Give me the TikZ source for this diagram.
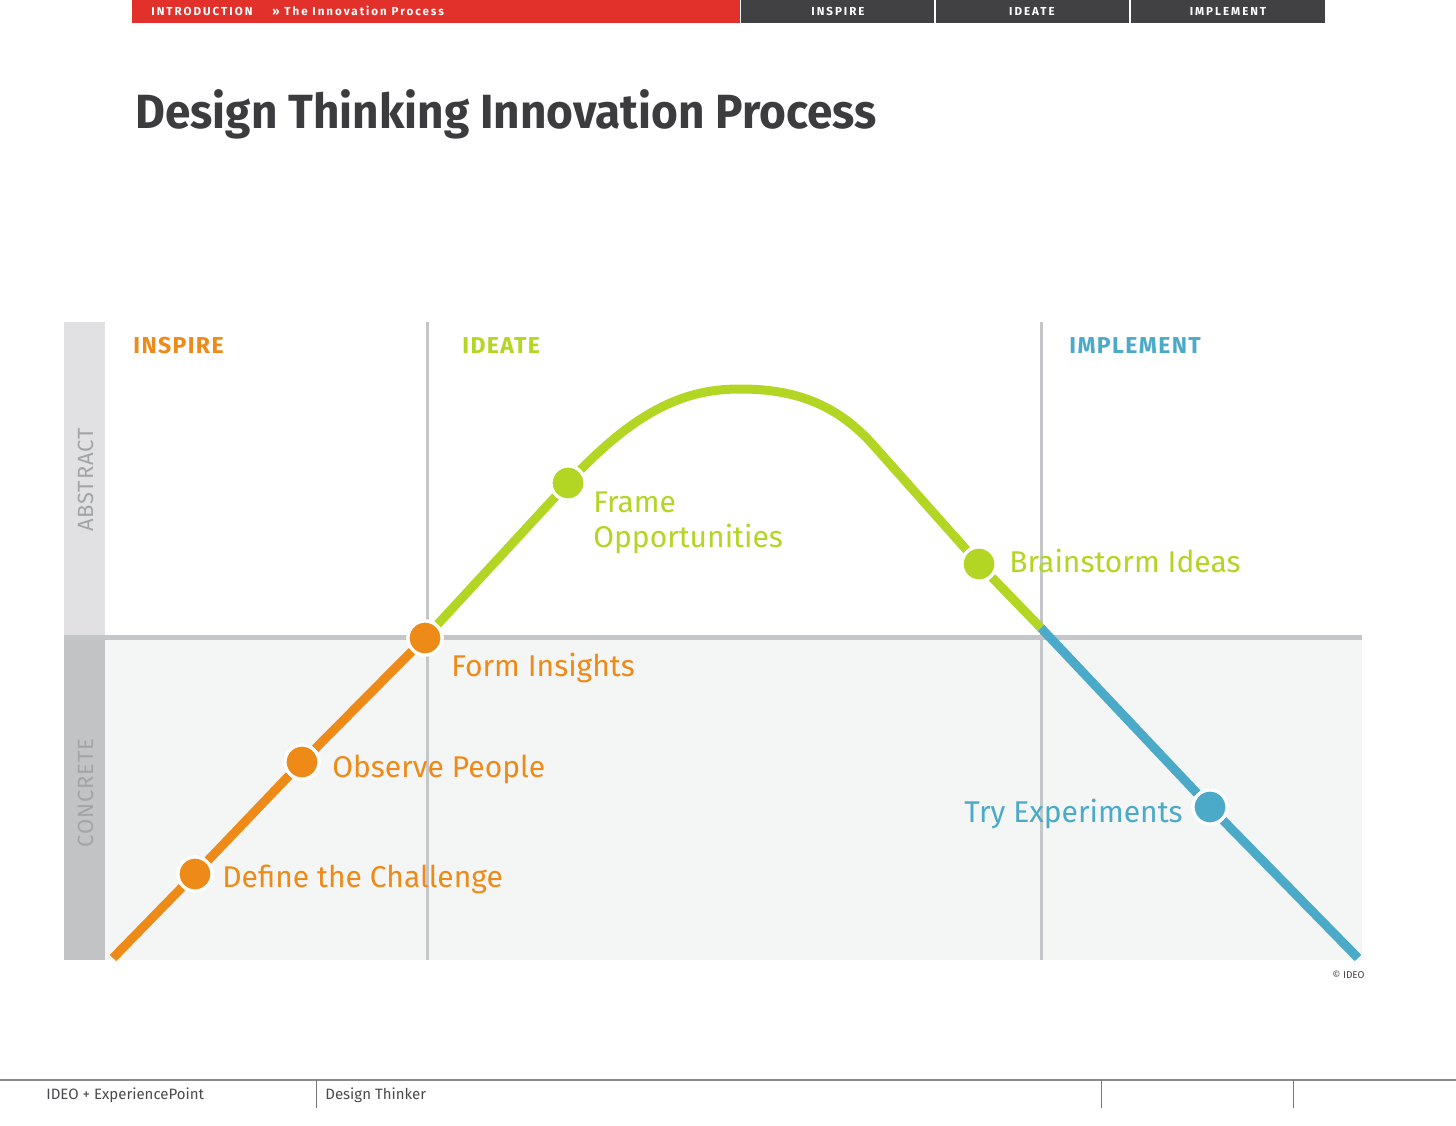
\documentclass[tikz,border=0pt]{standalone}
\usepackage{fontspec}
\setmainfont{Fira Sans}
\usetikzlibrary{positioning}

\definecolor{ideored}{HTML}{E2312A}
\definecolor{bargray}{HTML}{414042}
\definecolor{titlegray}{HTML}{3C3C3E}
\definecolor{inspireorange}{HTML}{EE8A17}
\definecolor{ideategreen}{HTML}{B3D523}
\definecolor{implementblue}{HTML}{4BAAC8}
\definecolor{gridgray}{HTML}{C5C6C8}
\definecolor{abstractgray}{HTML}{E1E1E3}
\definecolor{concretegray}{HTML}{C2C3C5}
\definecolor{concretefill}{HTML}{F4F5F5}
\definecolor{axisgray}{HTML}{A3A4A6}
\definecolor{footgray}{HTML}{4A4A4C}

\tikzset{
  bartext/.style={text=white, inner sep=0pt,
    font=\fontsize{5.8}{7}\selectfont\bfseries\addfontfeatures{LetterSpace=17}},
  stagehead/.style={anchor=base west, inner sep=0pt,
    font=\fontsize{11.5}{13}\selectfont\bfseries\addfontfeatures{LetterSpace=6}},
  steplabel/.style={inner sep=0pt, font=\fontsize{15}{17.5}\selectfont},
  stepdot/.style={circle, draw=white, line width=1.6pt, minimum size=17pt, inner sep=0pt},
  curveline/.style={line width=4.5pt},
  axislabel/.style={rotate=90, anchor=base, inner sep=0pt, text=axisgray,
    font=\fontsize{11}{13}\selectfont\addfontfeatures{LetterSpace=4}},
  footlabel/.style={anchor=base west, inner sep=0pt, text=footgray,
    font=\fontsize{7.5}{9}\selectfont}
}

\begin{document}
\begin{tikzpicture}[x=0.5pt, y=-0.5pt]
  \useasboundingbox[fill=white] (0,0) rectangle (1456,1125);

  % Top bar
  \fill[ideored] (132,0) rectangle (740,23);
  \fill[bargray] (741,0) rectangle (934,23);
  \fill[bargray] (936,0) rectangle (1129,23);
  \fill[bargray] (1131,0) rectangle (1325,23);
  \node[bartext, anchor=base west] (intro) at (151,15) {INTRODUCTION};
  \node[bartext, anchor=base west] (crumb) at (272,15) {» The Innovation Process};
  \node[bartext, anchor=base] (tabinspire) at (838,15) {INSPIRE};
  \node[bartext, anchor=base] (tabideate) at (1032,15) {IDEATE};
  \node[bartext, anchor=base] (tabimplement) at (1228,15) {IMPLEMENT};

  % Title
  \node[anchor=base west, inner sep=0pt, text=titlegray,
    font=\fontsize{24}{28}\selectfont\bfseries] (title) at (135,128)
    {\scalebox{0.957}[1]{Design Thinking Innovation Process}};

  % Chart background
  \fill[concretefill] (105,640) rectangle (1362,960);
  \fill[abstractgray] (64,322) rectangle (105,636);
  \fill[concretegray] (64,640) rectangle (105,960);
  \draw[gridgray, line width=2.5pt] (64,637) -- (1362,637);
  \draw[gridgray, line width=1.5pt] (427,322) -- (427,960);
  \draw[gridgray, line width=1.5pt] (1041,322) -- (1041,960);

  % Axis labels
  \node[axislabel] (abstract) at (93,480) {ABSTRACT};
  \node[axislabel] (concrete) at (93,793) {CONCRETE};

  % Stage headings
  \node[stagehead, text=inspireorange] (inspire) at (133,353) {INSPIRE};
  \node[stagehead, text=ideategreen] (ideate) at (462,353) {IDEATE};
  \node[stagehead, text=implementblue] (implement) at (1069,353) {IMPLEMENT};

  % Curve points
  \coordinate (start) at (113,958);
  \coordinate (peak) at (740,389);
  \coordinate (cross) at (1041,628);
  \coordinate (finish) at (1358,958);
  \node[stepdot, fill=inspireorange] (define) at (195,874) {};
  \node[stepdot, fill=inspireorange] (observe) at (302,762) {};
  \node[stepdot, fill=inspireorange] (insights) at (425,638) {};
  \node[stepdot, fill=ideategreen] (frame) at (568,483) {};
  \node[stepdot, fill=ideategreen] (brainstorm) at (979,564) {};
  \node[stepdot, fill=implementblue] (experiments) at (1210,807) {};

  % Curve
  \draw[curveline, inspireorange] (start) -- (define) -- (observe) -- (insights);
  \draw[curveline, ideategreen] (insights) -- (frame.center)
    .. controls (640,405) and (690,389) .. (peak)
    .. controls (790,389) and (835,401) .. (875,447) -- (brainstorm) -- (cross);
  \draw[curveline, implementblue] (cross) -- (experiments) -- (finish);

  % Dots on top of the curve
  \foreach \n/\c in {define/inspireorange, observe/inspireorange,
      insights/inspireorange, frame/ideategreen, brainstorm/ideategreen,
      experiments/implementblue}
    \node[stepdot, fill=\c] at (\n) {};

  % Step labels
  \node[steplabel, anchor=base west, text=inspireorange] (definetext) at (222,887) {Define the Challenge};
  \node[steplabel, anchor=base west, text=inspireorange] (observetext) at (332,777) {Observe People};
  \node[steplabel, anchor=base west, text=inspireorange] (insightstext) at (451,676) {Form Insights};
  \node[steplabel, anchor=base west, text=ideategreen, align=left] (frametext) at (593,547) {Frame\\Opportunities};
  \node[steplabel, anchor=base west, text=ideategreen] (brainstormtext) at (1009,572) {Brainstorm Ideas};
  \node[steplabel, anchor=base east, text=implementblue] (experimentstext) at (1183,822) {Try Experiments};

  \node[anchor=base east, inner sep=0pt, text=footgray, font=\fontsize{5}{6}\selectfont] (copyright) at (1365,978) {© IDEO};

  % Footer
  \draw[gridgray!70!black, line width=0.6pt] (0,1080) -- (1456,1080);
  \draw[gridgray!60!black, line width=0.5pt] (316,1080) -- (316,1108);
  \draw[gridgray!60!black, line width=0.5pt] (1101,1080) -- (1101,1108);
  \draw[gridgray!60!black, line width=0.5pt] (1293,1080) -- (1293,1108);
  \node[footlabel] (partners) at (46,1099) {IDEO + ExperiencePoint};
  \node[footlabel] (product) at (325,1099) {Design Thinker};
\end{tikzpicture}
\end{document}
